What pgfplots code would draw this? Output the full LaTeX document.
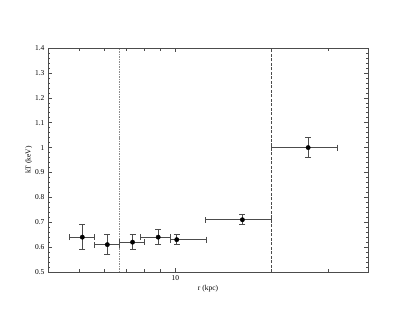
\documentclass[border=0pt]{standalone}
\usepackage{pgfplots}
\pgfplotsset{compat=1.18}
\usepackage{fontspec}
\setmainfont{Liberation Serif}
\begin{document}
\begin{tikzpicture}
\useasboundingbox (0,0) rectangle (415bp,321bp);
\begin{axis}[
  at={(48bp,49bp)}, anchor=south west,
  scale only axis, width=320bp, height=224bp,
  xmode=log, xmin=4, xmax=40, ymin=0.5, ymax=1.4,
  /pgf/number format/assume math mode=true,
  xtick={10}, xticklabels={10},
  minor xtick={5,6,7,8,9,20,30},
  ytick={0.5,0.6,...,1.41},
  yticklabels={0.5,0.6,0.7,0.8,0.9,1,1.1,1.2,1.3,1.4},
  minor y tick num=4,
  tick align=inside,
  major tick length=4bp, minor tick length=2.5bp,
  every tick/.style={black!70, line width=0.5pt},
  axis line style={black!70, line width=0.8pt},
  tick label style={font=\fontsize{7.5}{8}\selectfont},
  label style={font=\fontsize{7.5}{8}\selectfont},
  xlabel={r (kpc)}, ylabel={kT (keV)},
  xlabel style={yshift=2bp},
  ylabel style={yshift=-4bp},
  clip=false,
]
\addplot[black!45, dash pattern=on 1.5pt off 1pt, line width=0.9pt] coordinates {(6.68,0.5) (6.68,1.4)};
\addplot[black!70, dash pattern=on 3pt off 1.5pt, line width=0.9pt] coordinates {(20,0.5) (20,1.4)};
\addplot[only marks, mark=*, mark size=2.2pt, black,
  error bars/.cd, x dir=both, y dir=both, x explicit, y explicit,
  error bar style={black!70, line width=0.6pt},
  error mark options={rotate=90, mark size=3pt, black!70, line width=0.6pt}]
coordinates {
  (5.12,0.64) += (0.46,0.05) -= (0.46,0.05)
  (6.13,0.61) += (0.56,0.04) -= (0.55,0.04)
  (7.35,0.62) += (0.65,0.03) -= (0.66,0.03)
  (8.84,0.64) += (0.81,0.03) -= (1.08,0.03)
  (10.1,0.63) += (2.38,0.02) -= (0.45,0.02)
  (16.2,0.71) += (3.8,0.02) -= (3.75,0.02)
  (26.0,1.00) += (6.0,0.04) -= (6.0,0.04)
};
\end{axis}
\end{tikzpicture}
\end{document}
